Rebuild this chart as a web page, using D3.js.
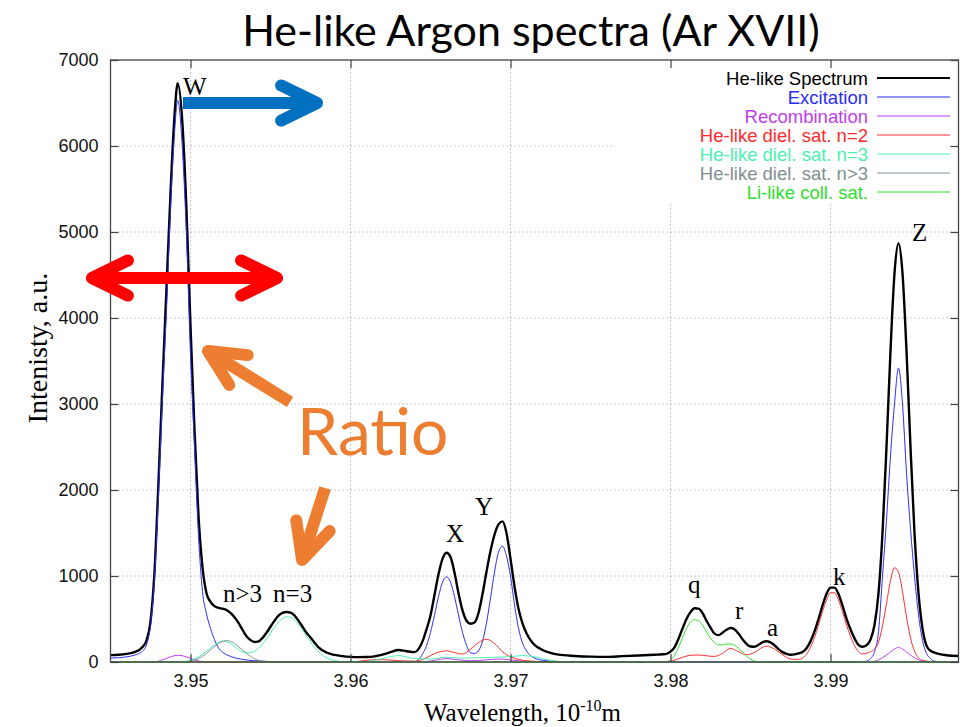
<!DOCTYPE html>
<html>
<head>
<meta charset="utf-8">
<script src="https://cdn.jsdelivr.net/npm/d3@7"></script>
<style>
  body { margin: 0; background: #fff; }
  svg { display: block; }
</style>
</head>
<body>
<svg id="chart" width="969" height="727"></svg>
<script>
// values: [wavelength (1e-10 m), intensity (a.u.)]
const spectrumTotal = [
  [3.94500, 80], [3.94550, 85], [3.94600, 95], [3.94650, 115], [3.94700, 175], [3.94725, 250],
  [3.94750, 470], [3.94775, 1050], [3.94800, 2100], [3.94825, 3250], [3.94850, 4350], [3.94875, 5450],
  [3.94900, 6350], [3.94920, 6730], [3.94950, 6250], [3.94975, 5250], [3.95000, 3900], [3.95025, 2700],
  [3.95050, 1700], [3.95075, 1100], [3.95100, 800], [3.95125, 700], [3.95150, 650], [3.95175, 630],
  [3.95200, 620], [3.95225, 605], [3.95250, 570], [3.95275, 520], [3.95300, 455], [3.95325, 375],
  [3.95350, 300], [3.95375, 255], [3.95400, 232], [3.95425, 240], [3.95450, 280], [3.95475, 340],
  [3.95500, 410], [3.95525, 480], [3.95550, 540], [3.95575, 572], [3.95600, 582], [3.95625, 575],
  [3.95650, 540], [3.95675, 480], [3.95700, 410], [3.95725, 340], [3.95750, 285], [3.95775, 225],
  [3.95800, 170], [3.95850, 110], [3.95900, 82], [3.95950, 68], [3.96000, 60], [3.96050, 57],
  [3.96100, 58], [3.96150, 65], [3.96200, 85], [3.96250, 115], [3.96300, 140], [3.96350, 125],
  [3.96400, 115], [3.96425, 150], [3.96450, 240], [3.96475, 380], [3.96500, 540], [3.96525, 780],
  [3.96550, 1020], [3.96575, 1200], [3.96600, 1270], [3.96625, 1220], [3.96650, 1040], [3.96675, 800],
  [3.96700, 600], [3.96725, 480], [3.96750, 445], [3.96775, 460], [3.96800, 570], [3.96825, 790],
  [3.96850, 1050], [3.96875, 1290], [3.96900, 1480], [3.96925, 1600], [3.96950, 1635], [3.96975, 1500],
  [3.97000, 1200], [3.97025, 880], [3.97050, 620], [3.97075, 450], [3.97100, 335], [3.97125, 255],
  [3.97150, 200], [3.97200, 140], [3.97250, 105], [3.97300, 85], [3.97400, 70], [3.97500, 62],
  [3.97600, 60], [3.97700, 68], [3.97800, 76], [3.97900, 85], [3.97950, 90], [3.97975, 95],
  [3.98000, 120], [3.98025, 170], [3.98050, 270], [3.98075, 390], [3.98100, 500], [3.98125, 580],
  [3.98150, 625], [3.98175, 620], [3.98200, 570], [3.98225, 480], [3.98250, 400], [3.98275, 330],
  [3.98300, 312], [3.98325, 340], [3.98350, 375], [3.98375, 395], [3.98400, 380], [3.98425, 330],
  [3.98450, 265], [3.98475, 210], [3.98500, 180], [3.98525, 178], [3.98550, 200], [3.98575, 230],
  [3.98600, 242], [3.98625, 228], [3.98650, 195], [3.98675, 150], [3.98700, 115], [3.98725, 95],
  [3.98750, 85], [3.98775, 88], [3.98800, 100], [3.98825, 115], [3.98850, 160], [3.98875, 240],
  [3.98900, 355], [3.98925, 500], [3.98950, 655], [3.98975, 790], [3.99000, 865], [3.99025, 865],
  [3.99050, 790], [3.99075, 655], [3.99100, 505], [3.99125, 380], [3.99150, 275], [3.99175, 200],
  [3.99200, 178], [3.99225, 195], [3.99250, 260], [3.99275, 430], [3.99300, 800], [3.99325, 1500],
  [3.99350, 2500], [3.99375, 3620], [3.99400, 4520], [3.99425, 4870], [3.99450, 4520], [3.99475, 3620],
  [3.99500, 2500], [3.99525, 1500], [3.99550, 800], [3.99575, 390], [3.99600, 190], [3.99625, 130],
  [3.99675, 95], [3.99725, 78], [3.99800, 70]
]

const excitation = [
  [3.94500, 45], [3.94550, 50], [3.94600, 60], [3.94650, 80], [3.94700, 125], [3.94725, 200],
  [3.94750, 420], [3.94775, 960], [3.94800, 1950], [3.94825, 3080], [3.94850, 4100], [3.94875, 5250],
  [3.94900, 6150], [3.94920, 6530], [3.94950, 5950], [3.94975, 4950], [3.95000, 3575], [3.95025, 2500],
  [3.95050, 1470], [3.95075, 820], [3.95100, 560], [3.95125, 390], [3.95150, 260], [3.95175, 165],
  [3.95200, 115], [3.95225, 85], [3.95275, 50], [3.95325, 30], [3.95400, 15], [3.95500, 5],
  [3.95625, 0], [3.96400, 0], [3.96425, 30], [3.96450, 92], [3.96475, 190], [3.96500, 344],
  [3.96525, 545], [3.96550, 760], [3.96575, 927], [3.96600, 990], [3.96625, 927], [3.96650, 760],
  [3.96675, 545], [3.96700, 344], [3.96725, 195], [3.96750, 107], [3.96775, 100], [3.96800, 130],
  [3.96825, 241], [3.96850, 455], [3.96875, 741], [3.96900, 1046], [3.96925, 1277], [3.96950, 1348],
  [3.96975, 1231], [3.97000, 1000], [3.97025, 664], [3.97050, 393], [3.97075, 220], [3.97100, 130],
  [3.97125, 75], [3.97150, 45], [3.97200, 20], [3.97300, 3], [3.97400, 0], [3.99175, 0],
  [3.99225, 10], [3.99250, 40], [3.99275, 120], [3.99300, 350], [3.99325, 1000], [3.99350, 1650],
  [3.99375, 2400], [3.99400, 3000], [3.99425, 3420], [3.99450, 3000], [3.99475, 2200], [3.99500, 1550],
  [3.99525, 1000], [3.99550, 550], [3.99575, 250], [3.99600, 100], [3.99625, 40], [3.99650, 10],
  [3.99700, 0], [3.99800, 0]
]

const recombination = [
  [3.94500, 0], [3.94775, 0], [3.94825, 25], [3.94875, 60], [3.94920, 78], [3.94975, 60],
  [3.95025, 25], [3.95075, 5], [3.95125, 0], [3.96450, 0], [3.96525, 20], [3.96600, 40],
  [3.96675, 25], [3.96750, 15], [3.96850, 25], [3.96925, 35], [3.97000, 25], [3.97100, 5],
  [3.97175, 0], [3.99250, 0], [3.99300, 25], [3.99350, 80], [3.99400, 150], [3.99425, 170],
  [3.99450, 150], [3.99500, 80], [3.99550, 25], [3.99600, 5], [3.99650, 0], [3.99800, 0]
]

const dielN2 = [
  [3.94500, 0], [3.96000, 0], [3.96100, 20], [3.96200, 28], [3.96300, 15], [3.96400, 10],
  [3.96450, 30], [3.96500, 75], [3.96550, 115], [3.96600, 130], [3.96650, 110], [3.96700, 92],
  [3.96750, 150], [3.96800, 225], [3.96850, 265], [3.96900, 215], [3.96950, 120], [3.97000, 60],
  [3.97050, 30], [3.97150, 8], [3.97250, 0], [3.97950, 0], [3.98025, 20], [3.98075, 55],
  [3.98125, 78], [3.98175, 82], [3.98225, 72], [3.98275, 65], [3.98325, 100], [3.98375, 158],
  [3.98425, 120], [3.98475, 85], [3.98525, 110], [3.98575, 170], [3.98600, 185], [3.98650, 150],
  [3.98700, 85], [3.98750, 35], [3.98800, 30], [3.98825, 45], [3.98850, 90], [3.98875, 170],
  [3.98900, 285], [3.98925, 430], [3.98950, 585], [3.98975, 720], [3.99000, 805], [3.99025, 805],
  [3.99050, 720], [3.99075, 585], [3.99100, 430], [3.99125, 300], [3.99150, 190], [3.99175, 120],
  [3.99200, 95], [3.99225, 100], [3.99250, 120], [3.99275, 150], [3.99300, 230], [3.99325, 420],
  [3.99350, 680], [3.99375, 950], [3.99400, 1095], [3.99425, 1045], [3.99450, 815], [3.99475, 525],
  [3.99500, 280], [3.99525, 125], [3.99550, 50], [3.99575, 20], [3.99625, 5], [3.99675, 0],
  [3.99800, 0]
]

const dielN3 = [
  [3.94500, 0], [3.94950, 0], [3.95000, 22], [3.95025, 37], [3.95050, 60], [3.95075, 90],
  [3.95100, 126], [3.95125, 166], [3.95150, 200], [3.95175, 227], [3.95200, 240], [3.95225, 235],
  [3.95250, 215], [3.95275, 183], [3.95300, 146], [3.95325, 116], [3.95350, 108], [3.95375, 110],
  [3.95400, 125], [3.95425, 159], [3.95450, 208], [3.95475, 266], [3.95500, 337], [3.95525, 405],
  [3.95550, 462], [3.95575, 505], [3.95600, 527], [3.95625, 518], [3.95650, 486], [3.95675, 436],
  [3.95700, 371], [3.95725, 301], [3.95750, 232], [3.95775, 170], [3.95800, 120], [3.95850, 50],
  [3.95900, 17], [3.95950, 5], [3.96000, 0], [3.96100, 5], [3.96200, 40], [3.96300, 75],
  [3.96400, 40], [3.96500, 35], [3.96600, 55], [3.96700, 45], [3.96800, 50], [3.96900, 55],
  [3.97000, 62], [3.97075, 75], [3.97150, 60], [3.97250, 20], [3.97375, 0], [3.99800, 0]
]

const dielN4 = [
  [3.94500, 0], [3.94975, 0], [3.95000, 10], [3.95050, 40], [3.95100, 100], [3.95150, 180],
  [3.95200, 240], [3.95225, 250], [3.95250, 240], [3.95275, 215], [3.95300, 180], [3.95325, 140],
  [3.95350, 100], [3.95375, 65], [3.95400, 38], [3.95425, 20], [3.95475, 5], [3.95525, 0],
  [3.99800, 0]
]

const liLike = [
  [3.94500, 0], [3.97950, 0], [3.97975, 5], [3.98000, 25], [3.98025, 80], [3.98050, 170],
  [3.98075, 280], [3.98100, 390], [3.98125, 465], [3.98150, 492], [3.98175, 480], [3.98200, 430],
  [3.98225, 350], [3.98250, 275], [3.98275, 225], [3.98300, 200], [3.98325, 200], [3.98350, 208],
  [3.98375, 210], [3.98400, 195], [3.98425, 160], [3.98450, 115], [3.98475, 70], [3.98500, 35],
  [3.98525, 12], [3.98550, 0], [3.99800, 0]
]

const seriesNames = ['He-like Spectrum', 'Excitation', 'Recombination', 'He-like diel. sat. n=2',
  'He-like diel. sat. n=3', 'He-like diel. sat. n>3', 'Li-like coll. sat.']
const seriesColors = ['#000000', '#2b2bff', '#c03cf0', '#ff2a2a', '#4cf0b0', '#7f9090', '#2ee02e']
const seriesData = [spectrumTotal, excitation, recombination, dielN2, dielN3, dielN4, liLike]

const xTicks = [3.95, 3.96, 3.97, 3.98, 3.99]
const yTicks = [0, 1000, 2000, 3000, 4000, 5000, 6000, 7000]

// line labels: [text, wavelength, intensity at baseline]
const lineLabels = [
  ['W', 3.94953, 6593], ['n>3', 3.95203, 698], ['n=3', 3.95516, 698], ['X', 3.96597, 1395],
  ['Y', 3.96778, 1709], ['q', 3.98110, 802], ['r', 3.98403, 500], ['a', 3.98603, 302],
  ['k', 3.99016, 895], ['Z', 3.99510, 4900]
]

// slide annotations, anchored in data units (arrow tips are stroke centres)
const arrowNotes = [
  {from: [3.94953, 6500], to: [3.95791, 6500], color: '#0070c0', both: false},
  {from: [3.94384, 4465], to: [3.95541, 4465], color: '#ff0000', both: true},
  {from: [3.95622, 3023], to: [3.95109, 3616], color: '#ed7d31', both: false},
  {from: [3.95841, 2023], to: [3.95697, 1186], color: '#ed7d31', both: false}
]
const ratioNote = {text: 'Ratio', at: [3.95666, 2407]}

const svg = d3.select('#chart')
const W = 969, H = 727
const x = d3.scaleLinear().domain([3.945, 3.998]).range([110.5, 958.5])
const y = d3.scaleLinear().domain([0, 7000]).range([662, 60])
const sansFont = '"Liberation Sans", Arial, sans-serif'
const serifFont = '"Liberation Serif", "Times New Roman", serif'

svg.append('rect').attr('width', W).attr('height', H).attr('fill', '#fff')

// title
svg.append('text')
  .attr('x', 531).attr('y', 46)
  .attr('text-anchor', 'middle')
  .style('font-family', 'Lato, "Open Sans", sans-serif')
  .style('font-size', '43px')
  .text('He-like Argon spectra (Ar XVII)')

// grid
const grid = svg.append('g')
  .attr('stroke', '#b8b8b8').attr('stroke-width', 1).attr('stroke-dasharray', '1.5,2.5')
grid.selectAll('line.gx').data(xTicks).join('line')
  .attr('x1', d => x(d)).attr('x2', d => x(d)).attr('y1', y(7000)).attr('y2', y(0))
grid.selectAll('line.gy').data(yTicks.slice(1, -1)).join('line')
  .attr('x1', x.range()[0]).attr('x2', x.range()[1]).attr('y1', d => y(d)).attr('y2', d => y(d))

// legend box hides the grid behind it
svg.append('rect')
  .attr('x', 615).attr('y', 61).attr('width', 342).attr('height', 141).attr('fill', '#fff')

// curves
const line = d3.line().x(d => x(d[0])).y(d => y(d[1])).curve(d3.curveMonotoneX)
svg.append('g').selectAll('path').data(seriesData).join('path')
  .attr('d', line)
  .attr('fill', 'none')
  .attr('stroke', (d, i) => seriesColors[i])
  .attr('stroke-width', (d, i) => i === 0 ? 2.4 : 1)
  .attr('stroke-linejoin', 'round')

// legend
const legend = svg.append('g').style('font-family', sansFont).style('font-size', '18.5px')
seriesNames.forEach((name, i) => {
  const ly = 78 + i * 19
  legend.append('text')
    .attr('x', 868).attr('y', ly).attr('dy', '0.36em')
    .attr('text-anchor', 'end')
    .attr('fill', i === 0 ? '#000' : seriesColors[i])
    .text(name)
  legend.append('line')
    .attr('x1', 877).attr('x2', 950).attr('y1', ly).attr('y2', ly)
    .attr('stroke', seriesColors[i]).attr('stroke-width', i === 0 ? 2 : 1)
})

// axes with inward ticks
const axisColor = '#444'
function styleAxis(g, labels) {
  g.select('.domain').remove()
  g.selectAll('.tick line').attr('stroke', axisColor).attr('stroke-width', 1.2)
  g.selectAll('.tick text')
    .style('font-family', sansFont).style('font-size', '18px').attr('fill', '#111')
  if (!labels) g.selectAll('.tick text').remove()
}
svg.append('g').attr('transform', `translate(0,${y(0)})`)
  .call(d3.axisBottom(x).tickValues(xTicks).tickSize(-8).tickPadding(12).tickFormat(d3.format('.2f')))
  .call(g => styleAxis(g, true))
svg.append('g').attr('transform', `translate(0,${y(7000)})`)
  .call(d3.axisTop(x).tickValues(xTicks).tickSize(-8))
  .call(g => styleAxis(g, false))
svg.append('g').attr('transform', `translate(${x.range()[0]},0)`)
  .call(d3.axisLeft(y).tickValues(yTicks).tickSize(-8).tickPadding(12).tickFormat(d3.format('d')))
  .call(g => styleAxis(g, true))
svg.append('g').attr('transform', `translate(${x.range()[1]},0)`)
  .call(d3.axisRight(y).tickValues(yTicks).tickSize(-8))
  .call(g => styleAxis(g, false))

svg.append('rect')
  .attr('x', x.range()[0]).attr('y', y(7000))
  .attr('width', x.range()[1] - x.range()[0]).attr('height', y(0) - y(7000))
  .attr('fill', 'none').attr('stroke', axisColor).attr('stroke-width', 1.3)

// axis titles
svg.append('text')
  .attr('transform', 'translate(47,348) rotate(-90)')
  .attr('text-anchor', 'middle')
  .style('font-family', serifFont).style('font-size', '28px')
  .text('Intenisty, a.u.')

const xTitle = svg.append('text')
  .attr('x', 424).attr('y', 721)
  .style('font-family', serifFont).style('font-size', '25px')
xTitle.append('tspan').text('Wavelength, 10')
xTitle.append('tspan').attr('dy', -10).style('font-size', '16px').text('-10')
xTitle.append('tspan').attr('dy', 10).text('m')

// peak labels
svg.append('g').selectAll('text').data(lineLabels).join('text')
  .attr('x', d => x(d[1])).attr('y', d => y(d[2]))
  .style('font-family', serifFont).style('font-size', '25px')
  .text(d => d[0])

// arrows
const headLen = 40, headAng = 26 * Math.PI / 180
function head(g, tip, tail, color) {
  const ang = Math.atan2(tail[1] - tip[1], tail[0] - tip[0])
  const a1 = [tip[0] + headLen * Math.cos(ang + headAng), tip[1] + headLen * Math.sin(ang + headAng)]
  const a2 = [tip[0] + headLen * Math.cos(ang - headAng), tip[1] + headLen * Math.sin(ang - headAng)]
  g.append('path')
    .attr('d', d3.line()([a1, tip, a2]))
    .attr('fill', 'none').attr('stroke', color).attr('stroke-width', 12)
    .attr('stroke-linecap', 'round').attr('stroke-linejoin', 'round')
}
const notes = svg.append('g')
arrowNotes.forEach(a => {
  const p0 = [x(a.from[0]), y(a.from[1])], p1 = [x(a.to[0]), y(a.to[1])]
  const ang = Math.atan2(p1[1] - p0[1], p1[0] - p0[0])
  const back = 3
  const s0 = a.both ? [p0[0] + back * Math.cos(ang), p0[1] + back * Math.sin(ang)] : p0
  const s1 = [p1[0] - back * Math.cos(ang), p1[1] - back * Math.sin(ang)]
  notes.append('path')
    .attr('d', d3.line()([s0, s1]))
    .attr('stroke', a.color).attr('stroke-width', 12).attr('stroke-linecap', 'butt')
  head(notes, p1, p0, a.color)
  if (a.both) head(notes, p0, p1, a.color)
})

svg.append('text')
  .attr('x', x(ratioNote.at[0])).attr('y', y(ratioNote.at[1]))
  .attr('fill', '#ed7d31')
  .style('font-family', 'Lato, "Open Sans", sans-serif')
  .style('font-size', '66px')
  .text(ratioNote.text)
</script>
</body>
</html>
